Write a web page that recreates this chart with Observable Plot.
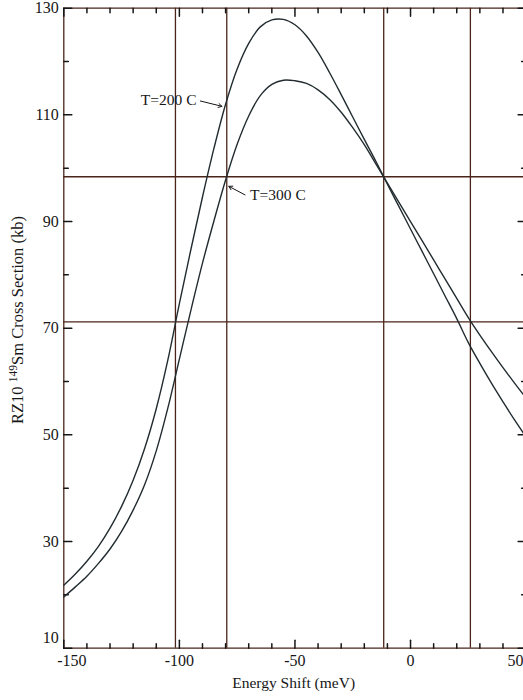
<!DOCTYPE html>
<html>
<head>
<meta charset="utf-8">
<script src="https://cdn.jsdelivr.net/npm/d3@7"></script>
<script src="https://cdn.jsdelivr.net/npm/@observablehq/plot@0.6"></script>
<style>
  body { margin: 0; background: #fff; }
  #chart { width: 523px; height: 700px; overflow: hidden; }
</style>
</head>
<body>
<div id="chart"></div>
<script>
// Energy shift (meV)
const energy = [-150,-145,-140,-135,-130,-125,-120,-115,-110,-105,-100,-95,-90,-85,-80,-75,-70,-65,-60,-55,-50,-45,-40,-35,-30,-25,-20,-15,-10,-5,0,5,10,15,20,25,30,35,40,45,50];
// RZ10 149Sm cross section (kb), T=200 C
const t200 = [21.8,23.9,26.3,29.1,32.5,36.6,41.5,47.5,54.9,64.0,74.6,84.8,94.6,103.8,112.0,118.6,123.4,126.5,127.8,127.9,126.9,124.8,121.7,117.9,113.8,109.6,105.4,101.3,97.0,92.8,88.6,84.4,80.2,76.0,71.8,67.3,63.4,59.7,56.2,52.8,49.6];
// T=300 C
const t300 = [19.6,21.5,23.5,25.9,28.6,31.9,35.9,40.7,47.0,55.0,64.2,73.4,82.2,90.2,97.8,104.5,109.8,113.6,115.7,116.5,116.4,115.9,114.7,112.9,110.5,107.6,104.4,100.8,97.2,93.6,90.0,86.4,82.8,79.2,75.6,72.0,68.7,65.6,62.6,59.7,56.9];

// reference lines
const vLines = [-101.7, -79.5, -11.6, 25.9];
const hLines = [98.4, 71.2];

// ticks
const xMajor = [-150, -100, -50, 0, 50];
const xMinor = [-140,-130,-120,-110,-90,-80,-70,-60,-40,-30,-20,-10,10,20,30,40];
const xLabelsFirst = [-150];
const xLabelsMain = [-100, -50, 0];
const xLabelsEdge = [50];
const yMajor = [10, 30, 50, 70, 90, 110, 130];
const yMinor = [20, 40, 60, 80, 100, 120];
const yLabelsMain = [30, 50, 70, 90, 110, 130];
const yLabelsLow = [10];

// curve annotations (data coordinates)
const label200 = [{text: "T=200 C", x: -92.6, y: 112.8, ax1: -90.9, ay1: 112.6, ax2: -81.6, ay2: 111.6}];
const label300 = [{text: "T=300 C", x: -69.4, y: 94.9, ax1: -71.6, ay1: 95.0, ax2: -78.6, ay2: 96.6}];

const rows = [];
energy.forEach((e, i) => {
  rows.push({e, v: t200[i], s: "T=200 C"});
  rows.push({e, v: t300[i], s: "T=300 C"});
});

const ink = "#161616";
const lineCol = "#4a2419";
const curveCol = "#222c30";
const tickShape = {draw(context, l) { context.moveTo(0, 0); context.lineTo(0, -l); }};
const fmt = d => String(d);

const marginLeft = 63.3, marginTop = 7.7, marginBottom = 52.3, W = 523, H = 700;
const xEnd = 525.6;

const plot = Plot.plot({
  width: W,
  height: H,
  marginLeft, marginTop, marginBottom, marginRight: 0,
  style: {fontFamily: "'Liberation Serif', 'Times New Roman', serif", fontSize: "16px", color: ink, background: "#fff"},
  x: {domain: [-150, 50], range: [marginLeft, xEnd]},
  y: {domain: [10, 130]},
  marks: [
    Plot.ruleY(hLines, {stroke: lineCol, strokeWidth: 1.3}),
    Plot.ruleX(vLines, {stroke: lineCol, strokeWidth: 1.3}),
    Plot.ruleX([-150, 50], {stroke: lineCol, strokeWidth: 1.3}),
    Plot.ruleY([10, 130], {stroke: lineCol, strokeWidth: 1.3}),
    // inward ticks
    Plot.vector(xMajor, {x: d => d, frameAnchor: "bottom", rotate: 0, length: 8, anchor: "start", shape: tickShape, stroke: ink}),
    Plot.vector(xMinor, {x: d => d, frameAnchor: "bottom", rotate: 0, length: 4.5, anchor: "start", shape: tickShape, stroke: ink}),
    Plot.vector(xMajor, {x: d => d, frameAnchor: "top", rotate: 180, length: 8, anchor: "start", shape: tickShape, stroke: ink}),
    Plot.vector(xMinor, {x: d => d, frameAnchor: "top", rotate: 180, length: 4.5, anchor: "start", shape: tickShape, stroke: ink}),
    Plot.vector(yMajor, {y: d => d, frameAnchor: "left", rotate: 90, length: 8, anchor: "start", shape: tickShape, stroke: ink}),
    Plot.vector(yMinor, {y: d => d, frameAnchor: "left", rotate: 90, length: 4.5, anchor: "start", shape: tickShape, stroke: ink}),
    Plot.vector(yMajor, {y: d => d, x: () => 50, rotate: -90, length: 8, anchor: "start", shape: tickShape, stroke: ink}),
    Plot.vector(yMinor, {y: d => d, x: () => 50, rotate: -90, length: 4.5, anchor: "start", shape: tickShape, stroke: ink}),
    // tick labels
    Plot.axisX({ticks: xLabelsFirst, tickFormat: fmt, tickSize: 0, tickPadding: 6, label: null, fontSize: 16, dx: 8}),
    Plot.axisX({ticks: xLabelsMain, tickFormat: fmt, tickSize: 0, tickPadding: 6, label: null, fontSize: 16}),
    Plot.axisX({ticks: xLabelsEdge, tickFormat: fmt, tickSize: 0, tickPadding: 6, label: null, fontSize: 16, textAnchor: "end", dx: -2.5}),
    Plot.axisY({ticks: yLabelsMain, tickFormat: fmt, tickSize: 0, tickPadding: 5, label: null, fontSize: 16}),
    Plot.axisY({ticks: yLabelsLow, tickFormat: fmt, tickSize: 0, tickPadding: 5, label: null, fontSize: 16, dy: -10}),
    // curves
    Plot.line(rows, {x: "e", y: "v", z: "s", stroke: curveCol, strokeWidth: 1.4, curve: "catmull-rom"}),
    // annotations
    Plot.text(label200, {x: "x", y: "y", text: "text", textAnchor: "end", fontSize: 15.5, fill: ink}),
    Plot.arrow(label200, {x1: "ax1", y1: "ay1", x2: "ax2", y2: "ay2", stroke: ink, strokeWidth: 1, headLength: 6}),
    Plot.text(label300, {x: "x", y: "y", text: "text", textAnchor: "start", fontSize: 15.5, fill: ink}),
    Plot.arrow(label300, {x1: "ax1", y1: "ay1", x2: "ax2", y2: "ay2", stroke: ink, strokeWidth: 1, headLength: 6}),
    // x axis title
    Plot.text(["Energy Shift (meV)"], {text: d => d, frameAnchor: "bottom", dy: 40, fontSize: 15.5, fill: ink})
  ]
});

// y axis title with superscript mass number
const svg = d3.select(plot);
const t = svg.append("text")
  .attr("transform", `translate(23, 320) rotate(-90)`)
  .attr("text-anchor", "middle")
  .attr("font-size", 16.5)
  .attr("fill", ink);
t.append("tspan").text("RZ10 ");
t.append("tspan").attr("font-size", 11.5).attr("dy", -6).text("149");
t.append("tspan").attr("dy", 6).text("Sm Cross Section (kb)");

document.getElementById("chart").appendChild(plot);
</script>
</body>
</html>
